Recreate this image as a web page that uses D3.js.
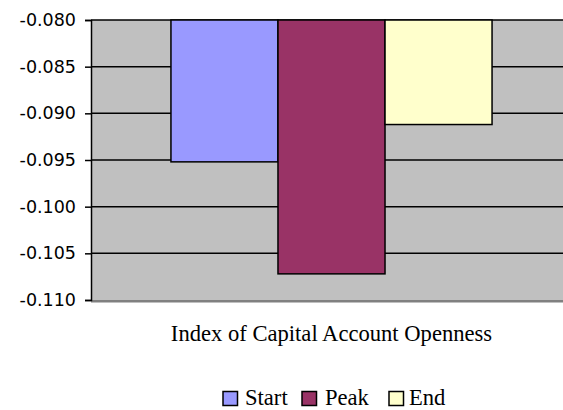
<!DOCTYPE html>
<html><head><meta charset="utf-8">
<script src="https://cdn.jsdelivr.net/npm/d3@7"></script>
<style>body{margin:0;background:#fff}svg{display:block}</style>
</head><body>
<svg id="c" width="563" height="410"></svg>
<script>
const category = "Index of Capital Account Openness";
const series = ["Start", "Peak", "End"];
const values = [-0.0952, -0.1072, -0.0912];
const colors = ["#9999FF", "#993366", "#FFFFCC"];
const yTicks = [-0.080, -0.085, -0.090, -0.095, -0.100, -0.105, -0.110];

const svg = d3.select("#c");
const L = 91, T = 20, B = 300, R = 572;
const y = d3.scaleLinear().domain([-0.080, -0.110]).range([T, B]);
const x0 = d3.scaleBand().domain([category]).range([L, R]).paddingInner(0).paddingOuter(0.249);
const x1 = d3.scaleBand().domain(series).range([x0(category), x0(category) + x0.bandwidth()]);

svg.append("rect").attr("x", L).attr("y", T).attr("width", 563 - L).attr("height", B - T).attr("fill", "#C0C0C0");
svg.append("rect").attr("x", L).attr("y", B).attr("width", 563 - L).attr("height", 2.5).attr("fill", "#808080");

svg.append("g").selectAll("line").data(yTicks.slice(0, -1)).join("line")
  .attr("x1", L).attr("x2", 563).attr("y1", d => y(d)).attr("y2", d => y(d))
  .attr("stroke", "#000").attr("stroke-width", 1.5);

svg.append("g").selectAll("rect").data(series).join("rect")
  .attr("x", d => x1(d)).attr("width", x1.bandwidth())
  .attr("y", y(-0.080)).attr("height", (d, i) => y(values[i]) - y(-0.080))
  .attr("fill", (d, i) => colors[i]).attr("stroke", "#000").attr("stroke-width", 1.5);

const ax = svg.append("g").attr("transform", `translate(${L},0)`)
  .call(d3.axisLeft(y).tickValues(yTicks).tickFormat(d3.format(".3f")).tickSizeOuter(0).tickSize(6).tickPadding(9));
ax.select(".domain").attr("stroke", "#000").attr("stroke-width", 1.5);
ax.selectAll(".tick line").attr("stroke", "#000").attr("stroke-width", 1.5);
ax.selectAll(".tick text").attr("font-family", "DejaVu Sans").attr("font-size", 17.5).attr("fill", "#000")
  .text(d => d3.format(".3f")(d).replace("−", "-"));

svg.append("text").attr("x", x0(category) + x0.bandwidth() / 2).attr("y", 341)
  .attr("text-anchor", "middle").attr("font-family", "Liberation Serif").attr("font-size", 22.6)
  .text(category);

const lg = svg.append("g");
const legX = [223, 302, 389];
const txtX = [245, 325, 409];
series.forEach((s, i) => {
  lg.append("rect").attr("x", legX[i]).attr("y", 391.5).attr("width", 14.5).attr("height", 14)
    .attr("fill", colors[i]).attr("stroke", "#000").attr("stroke-width", 1.5);
  lg.append("text").attr("x", txtX[i]).attr("y", 405).attr("font-family", "Liberation Serif")
    .attr("font-size", 22.6).text(s);
});
</script>
</body></html>
